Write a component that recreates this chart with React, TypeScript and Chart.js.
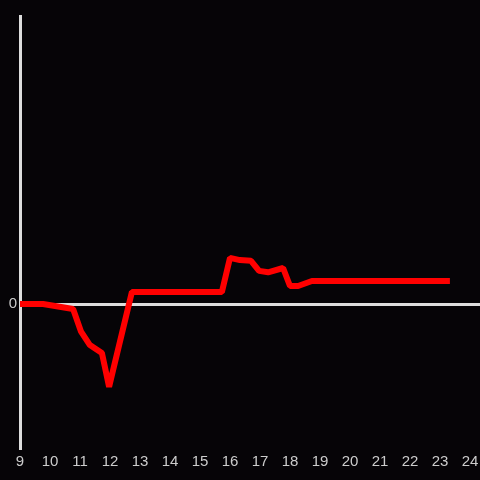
import React, { useEffect, useRef } from "react";
import { Chart, registerables } from "chart.js";

Chart.register(...registerables);

const hours = [9, 9.77, 10.77, 11.03, 11.33, 11.73, 11.97, 12.73, 15.73, 16.0, 16.33, 16.7, 16.97, 17.27, 17.77, 18.0, 18.27, 18.73, 23.33];
const values = [0, 0, -0.035, -0.19, -0.285, -0.34, -0.575, 0.083, 0.083, 0.32, 0.305, 0.3, 0.23, 0.22, 0.25, 0.125, 0.125, 0.16, 0.16];
const xTickMin = 9;
const xTickMax = 24;
const yTickLabels = ["0"];

export default function App() {
  const ref = useRef<HTMLCanvasElement | null>(null);
  useEffect(() => {
    if (!ref.current) return;
    const chart = new Chart(ref.current, {
      type: "line",
      data: {
        datasets: [
          {
            data: hours.map((h, i) => ({ x: h, y: values[i] })),
            borderColor: "#ff0000",
            borderWidth: 6,
            pointRadius: 0,
            tension: 0,
            fill: false,
            borderCapStyle: "butt",
            borderJoinStyle: "bevel",
          },
        ],
      },
      options: {
        responsive: false,
        maintainAspectRatio: false,
        animation: false,
        layout: { padding: { top: 16, right: 0, left: 0, bottom: 0 } },
        plugins: { legend: { display: false }, tooltip: { enabled: false } },
        scales: {
          x: {
            type: "linear",
            min: xTickMin,
            max: xTickMax + 1 / 3,
            border: { display: false },
            grid: { display: false, drawTicks: false },
            ticks: {
              stepSize: 1,
              includeBounds: false,
              color: "#cccccc",
              font: { family: "Liberation Sans", size: 15 },
              padding: 5,
              maxRotation: 0,
              autoSkip: false,
              callback: (v: any) => (Number(v) >= xTickMin && Number(v) <= xTickMax && Number.isInteger(Number(v)) ? String(v) : ""),
            },
            afterFit: (s: any) => {
              s.height = 32;
              s.paddingLeft = 0;
              s.paddingRight = 0;
            },
          },
          y: {
            min: -1,
            max: 2,
            border: { display: true, color: "#dddddd", width: 3 },
            grid: {
              drawTicks: false,
              lineWidth: 3,
              color: (ctx: any) => (ctx.tick && ctx.tick.value === 0 ? "#dddddd" : "rgba(0,0,0,0)"),
            },
            ticks: {
              stepSize: 1,
              color: "#cccccc",
              font: { family: "Liberation Sans", size: 15 },
              padding: 3,
              callback: (v: any) => (yTickLabels.includes(String(v)) ? String(v) : ""),
            },
            afterFit: (s: any) => {
              s.width = 20;
              s.paddingTop = 0;
              s.paddingBottom = 0;
            },
          },
        },
      },
    });
    return () => chart.destroy();
  }, []);
  return (
    <div style={{ position: "fixed", left: 0, top: 0, width: 480, height: 480, background: "#060407" }}>
      <canvas ref={ref} width={480} height={480} />
    </div>
  );
}
